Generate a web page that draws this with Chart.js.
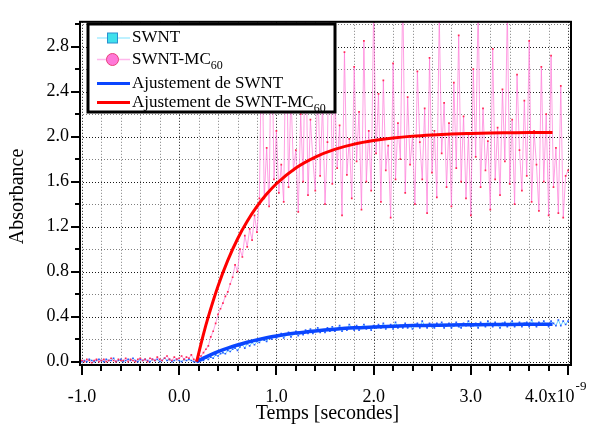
<!DOCTYPE html>
<html><head><meta charset="utf-8">
<script src="https://cdn.jsdelivr.net/npm/chart.js@4.4.1/dist/chart.umd.min.js"></script>
<style>html,body{margin:0;padding:0;background:#fff;}#wrap{width:602px;height:432px;}</style>
</head><body><div id="wrap"><canvas id="c" width="602" height="432"></canvas></div>
<script>
// time axis in units of 1e-9 s : samples start at tStart with spacing tStep
const tStart = -1.0, tStep = 0.025;

const swntData = [
0.00,0.01,0.00,0.02,0.01,0.00,0.01,0.02,0.01,0.00,
0.02,0.01,0.01,0.03,0.00,0.01,0.02,0.00,0.01,0.02,
0.01,0.03,0.01,0.00,0.02,0.01,0.02,0.01,0.00,0.02,
0.01,0.02,0.00,0.01,0.03,0.01,0.02,0.00,0.01,0.02,
0.01,0.00,0.02,0.01,0.02,0.01,0.00,
0.00,0.00,0.01,0.01,0.03,0.02,0.04,0.03,0.06,0.05,
0.07,0.08,0.07,0.10,0.09,0.11,0.12,0.10,0.13,0.15,
0.12,0.16,0.14,0.17,0.15,0.18,0.17,0.20,0.19,0.18,
0.22,0.20,0.23,0.21,
0.23,0.25,0.21,0.24,0.26,0.22,0.25,0.27,0.23,0.26,
0.24,0.28,0.25,0.29,0.25,0.27,0.30,0.26,0.28,0.26,
0.30,0.27,0.31,0.27,0.29,0.32,0.27,0.30,0.28,0.33,
0.30,0.28,0.32,0.28,0.30,0.33,0.29,0.31,0.28,0.32,
0.30,0.33,0.30,0.34,0.29,0.31,0.33,0.29,0.35,0.30,
0.32,0.30,0.34,0.30,0.32,0.29,0.33,0.34,0.30,0.36,
0.32,0.30,0.34,0.31,0.30,0.34,0.32,0.35,0.30,0.32,
0.34,0.30,0.32,0.35,0.31,0.30,0.34,0.32,0.36,0.31,
0.32,0.34,0.30,0.35,0.33,0.31,0.36,0.33,0.31,0.35,
0.33,0.30,0.34,0.35,0.31,0.33,0.36,0.31,0.33,0.35,
0.31,0.34,0.35,0.31,0.37,0.33,0.31,0.35,0.33,0.36,
0.33,0.31,0.36,0.34,0.32,0.37,0.32,0.36,0.33,0.36
];

const mc60Data = [
0.01,0.00,0.02,0.01,-0.01,0.01,0.02,0.00,0.01,0.02,
0.00,0.01,0.03,0.01,0.00,0.02,0.01,0.01,0.03,0.00,
0.02,0.01,0.00,0.02,0.03,0.01,0.02,0.00,0.03,0.02,
0.01,0.04,0.02,0.01,0.03,0.05,0.02,0.01,0.04,0.02,
0.03,0.05,0.02,0.04,0.03,0.06,0.02,
0.01,0.03,0.05,0.08,0.11,0.14,0.22,0.27,0.34,0.42,
0.47,0.52,0.58,0.62,0.69,0.75,0.86,0.80,1.00,0.93,
1.12,1.02,1.18,1.08,1.30,1.15,1.45,
2.95,1.45,1.90,1.38,3.20,1.62,2.05,1.50,1.75,1.42,
3.10,1.55,2.40,1.70,1.88,1.33,2.20,1.60,3.05,1.48,
2.15,1.80,1.52,2.55,1.65,2.30,1.40,1.95,3.25,1.58,
2.45,1.72,2.10,1.30,2.75,1.66,1.98,1.45,2.62,1.78,
2.22,1.35,2.85,1.60,2.05,1.52,3.15,1.85,2.38,1.42,
2.50,1.70,1.92,1.28,2.65,1.62,2.12,1.80,3.30,1.50,
2.35,1.75,2.00,1.40,2.58,1.95,1.62,2.25,1.32,2.70,
1.68,2.05,1.46,3.08,1.85,2.30,1.55,2.12,1.38,2.48,
1.72,2.90,1.60,2.18,1.45,2.02,1.30,2.60,1.82,3.20,
1.55,2.25,1.70,1.96,1.35,2.78,1.62,2.08,1.48,2.42,
1.78,3.12,1.58,2.15,1.40,2.55,1.88,1.52,2.32,1.65,
2.85,1.42,2.05,1.75,1.34,2.62,1.60,2.20,1.30,2.72,
1.55,1.90,1.32,2.45,1.28,1.65,1.70
];

const fitTimes = [0.18,0.25,0.3,0.4,0.5,0.6,0.7,0.8,0.9,1.0,1.2,1.4,1.6,1.8,2.0,2.2,2.4,2.6,2.8,3.0,3.2,3.4,3.6,3.84];
const fitSWNT  = [0,0.031,0.051,0.088,0.120,0.148,0.172,0.193,0.212,0.228,0.254,0.273,0.288,0.300,0.308,0.315,0.320,0.323,0.326,0.328,0.330,0.331,0.332,0.333];
const fitMC60  = [0,0.245,0.400,0.673,0.900,1.090,1.247,1.379,1.489,1.581,1.721,1.818,1.886,1.933,1.965,1.988,2.004,2.015,2.023,2.028,2.032,2.034,2.036,2.037];

const xMajorTicks = [-1, 0, 1, 2, 3, 4];
const yMajorTicks = [0, 0.4, 0.8, 1.2, 1.6, 2.0, 2.4, 2.8];
const xTitle = 'Temps [secondes]';
const yTitle = 'Absorbance';
const xExponent = '-9';

const FONT = '"Liberation Serif","Times New Roman",serif';

function toPoints(vals){ return vals.map((v,i)=>({x: tStart + i*tStep, y: v})); }
function fitPoints(ts, vals){ return ts.map((t,i)=>({x:t, y:vals[i]})); }

const isMajorX = v => xMajorTicks.some(m => Math.abs(m - v) < 1e-6);
const isMajorY = v => yMajorTicks.some(m => Math.abs(m - v) < 1e-6);

const decor = {
  id: 'decor',
  beforeDatasetsDraw(chart){
    const {ctx, chartArea:a, scales:{x, y}} = chart;
    ctx.save();
    ctx.lineWidth = 1;
    ctx.setLineDash([1,2]);
    for (let k=-5; k<=20; k++){
      const v = k/5, px = Math.round(x.getPixelForValue(v)) + 0.5;
      ctx.strokeStyle = (k%5===0) ? 'rgba(0,0,0,0.9)' : 'rgba(0,0,0,0.5)';
      ctx.beginPath(); ctx.moveTo(px, a.top); ctx.lineTo(px, a.bottom); ctx.stroke();
    }
    for (let k=0; k<=15; k++){
      const v = k/5, py = Math.round(y.getPixelForValue(v)) + 0.5;
      ctx.strokeStyle = (k%2===0) ? 'rgba(0,0,0,0.9)' : 'rgba(0,0,0,0.5)';
      ctx.beginPath(); ctx.moveTo(a.left, py); ctx.lineTo(a.right, py); ctx.stroke();
    }
    ctx.restore();
  },
  afterDraw(chart){
    const {ctx, chartArea:a, scales:{x, y}} = chart;
    ctx.save();
    ctx.setLineDash([]);
    ctx.strokeStyle = '#000';
    ctx.lineWidth = 2;
    ctx.strokeRect(a.left, a.top, a.right - a.left, a.bottom - a.top);
    for (let k=-5; k<=20; k++){
      const v = k/5, px = Math.round(x.getPixelForValue(v));
      const len = (k%5===0) ? 10 : 6;
      ctx.beginPath(); ctx.moveTo(px, a.bottom); ctx.lineTo(px, a.bottom + len); ctx.stroke();
    }
    for (let k=0; k<=15; k++){
      const v = k/5, py = Math.round(y.getPixelForValue(v));
      const len = (k%2===0) ? 9 : 5;
      ctx.beginPath(); ctx.moveTo(a.left, py); ctx.lineTo(a.left - len, py); ctx.stroke();
    }
    // x label at 4.0 with exponent
    ctx.fillStyle = '#000';
    ctx.font = '18px ' + FONT;
    ctx.textBaseline = 'middle';
    ctx.textAlign = 'left';
    const lx = x.getPixelForValue(4) - 43;
    const main = '4.0x10';
    ctx.fillText(main, lx, 397);
    const w = ctx.measureText(main).width;
    ctx.font = '13px ' + FONT;
    ctx.fillText(xExponent, lx + w + 1, 387);
    // axis titles
    ctx.font = '20px ' + FONT;
    ctx.textAlign = 'center';
    ctx.fillText(xTitle, (a.left + a.right)/2 + 2, 414);
    ctx.save();
    ctx.translate(18, (a.top + a.bottom)/2 + 3);
    ctx.rotate(-Math.PI/2);
    ctx.fillText(yTitle, 0, 0);
    ctx.restore();
    // legend
    const bx = 88, by = 24, bw = 247, bh = 88;
    ctx.fillStyle = '#fff';
    ctx.fillRect(bx, by, bw, bh);
    ctx.lineWidth = 3;
    ctx.strokeStyle = '#000';
    ctx.strokeRect(bx, by, bw, bh);
    const x0 = 97, x1 = 130, xm = 112.5, tx = 132;
    const rows = [38, 59.5, 83.5, 102.5];
    ctx.lineWidth = 1.5; ctx.strokeStyle = '#a8ecff';
    ctx.beginPath(); ctx.moveTo(x0, rows[0]); ctx.lineTo(x1, rows[0]); ctx.stroke();
    ctx.fillStyle = '#3fe0ec'; ctx.fillRect(xm-5, rows[0]-5, 10, 10);
    ctx.lineWidth = 1; ctx.strokeStyle = '#2a8fcf'; ctx.strokeRect(xm-5, rows[0]-5, 10, 10);
    ctx.lineWidth = 1.5; ctx.strokeStyle = '#ffb8ec';
    ctx.beginPath(); ctx.moveTo(x0, rows[1]); ctx.lineTo(x1, rows[1]); ctx.stroke();
    ctx.fillStyle = '#ff78d8'; ctx.beginPath(); ctx.arc(xm, rows[1], 6, 0, Math.PI*2); ctx.fill();
    ctx.lineWidth = 1; ctx.strokeStyle = '#e8407a'; ctx.stroke();
    ctx.lineWidth = 3; ctx.strokeStyle = '#0a46ff';
    ctx.beginPath(); ctx.moveTo(x0, rows[2]); ctx.lineTo(x1, rows[2]); ctx.stroke();
    ctx.strokeStyle = '#ff0000';
    ctx.beginPath(); ctx.moveTo(x0, rows[3]); ctx.lineTo(x1, rows[3]); ctx.stroke();
    ctx.fillStyle = '#000';
    ctx.textAlign = 'left'; ctx.textBaseline = 'middle';
    const labels = [['SWNT',''],['SWNT-MC','60'],['Ajustement de SWNT',''],['Ajustement de SWNT-MC','60']];
    labels.forEach((l,i)=>{
      ctx.font = '17px ' + FONT;
      ctx.fillText(l[0], tx, rows[i]);
      if (l[1]){
        const ww = ctx.measureText(l[0]).width;
        ctx.font = '12px ' + FONT;
        ctx.fillText(l[1], tx + ww, rows[i] + 6);
      }
    });
    ctx.restore();
  }
};

new Chart(document.getElementById('c'), {
  type: 'scatter',
  data: {
    datasets: [
      { label: 'SWNT', data: toPoints(swntData), showLine: true, order: 4,
        borderColor: 'rgba(90,205,255,0.9)', borderWidth: 1,
        pointStyle: 'rect', pointRadius: 1.2, pointBackgroundColor: '#2a5cff', pointBorderWidth: 0 },
      { label: 'SWNT-MC60', data: toPoints(mc60Data), showLine: true, order: 3,
        borderColor: 'rgba(255,120,215,0.7)', borderWidth: 1,
        pointStyle: 'rect', pointRadius: 1.2, pointBackgroundColor: '#ff2a55', pointBorderWidth: 0 },
      { label: 'Ajustement de SWNT', data: fitPoints(fitTimes, fitSWNT), showLine: true, order: 2,
        borderColor: '#0a46ff', borderWidth: 3.5, pointRadius: 0, cubicInterpolationMode: 'monotone' },
      { label: 'Ajustement de SWNT-MC60', data: fitPoints(fitTimes, fitMC60), showLine: true, order: 1,
        borderColor: '#ff0000', borderWidth: 3, pointRadius: 0, cubicInterpolationMode: 'monotone' }
    ]
  },
  options: {
    responsive: false, animation: false, devicePixelRatio: 1,
    layout: { padding: { top: 10, right: 31, left: 0, bottom: 0 } },
    plugins: { legend: { display: false }, tooltip: { enabled: false } },
    scales: {
      x: { type: 'linear', min: -1.02, max: 4.03,
        grid: { display: false, drawTicks: false }, border: { display: false },
        ticks: { stepSize: 0.2, includeBounds: false, autoSkip: false, maxRotation: 0, padding: 21,
          color: '#000', font: { family: FONT, size: 18 },
          callback: v => (isMajorX(v) && Math.abs(v-4) > 1e-6) ? Number(v).toFixed(1) : '' },
        afterFit: s => { s.height = 67; } },
      y: { type: 'linear', min: -0.03, max: 3.02,
        grid: { display: false, drawTicks: false }, border: { display: false },
        ticks: { stepSize: 0.2, includeBounds: false, autoSkip: false, padding: 11,
          color: '#000', font: { family: FONT, size: 18 },
          callback: v => isMajorY(v) ? Number(v).toFixed(1) : '' },
        afterFit: s => { s.width = 80; } }
    }
  },
  plugins: [decor]
});
</script></body></html>
